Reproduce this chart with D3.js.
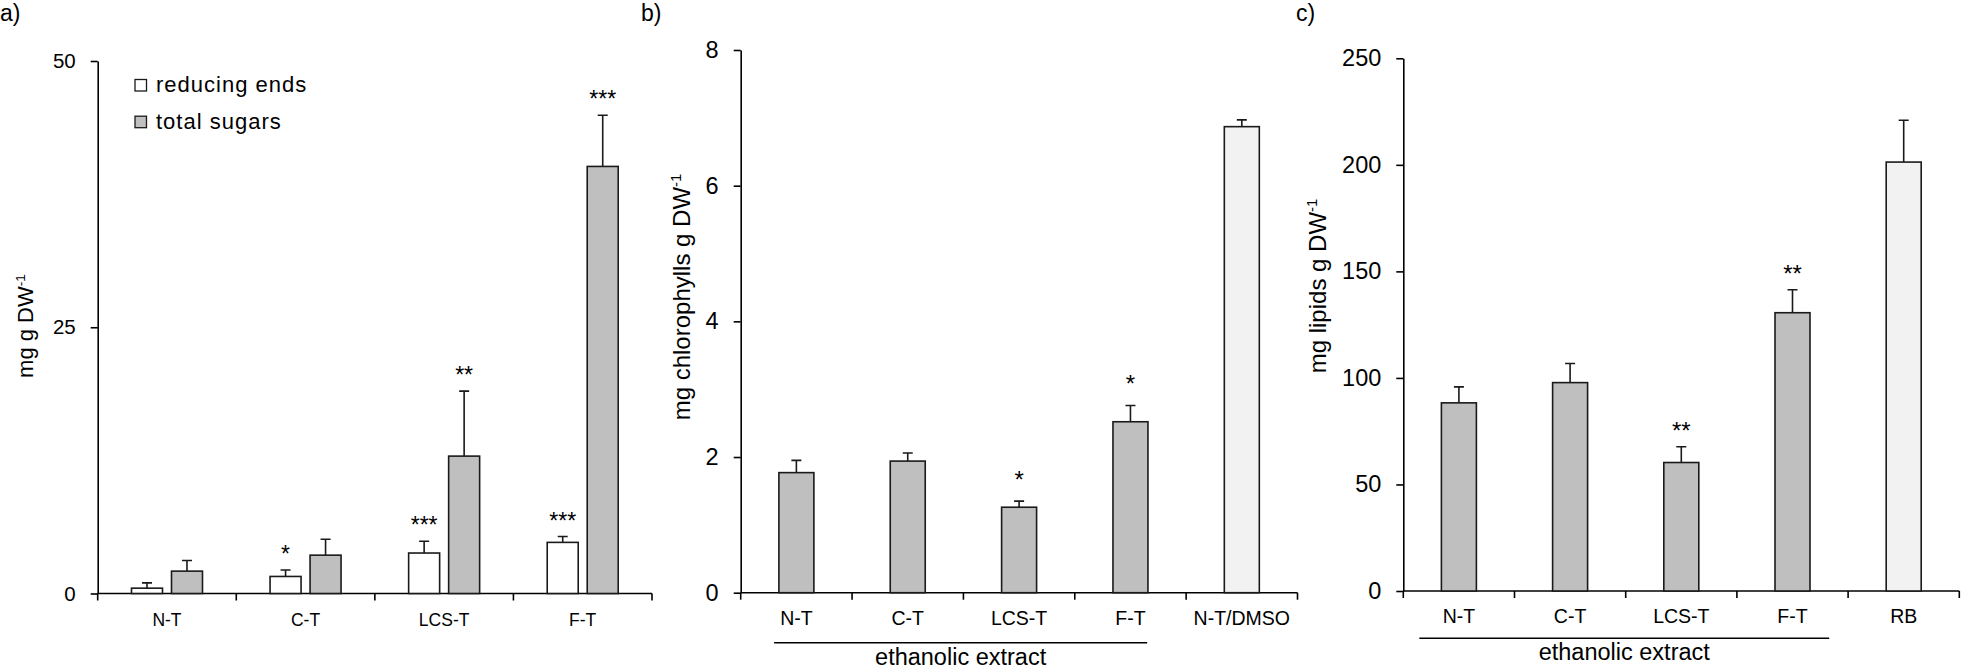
<!DOCTYPE html>
<html>
<head>
<meta charset="utf-8">
<script src="https://cdn.jsdelivr.net/npm/d3@7"></script>
<style>
  body { margin: 0; background: #fff; }
  svg text { font-family: "Liberation Sans", Arial, sans-serif; fill: #000; }
</style>
</head>
<body>
<div id="chart"></div>
<script>
// panel a: sugars
const catsA = ["N-T", "C-T", "LCS-T", "F-T"];
const seriesA = ["reducing ends", "total sugars"];
const reducingEnds = [0.5, 1.6, 3.8, 4.8];
const reducingEndsErr = [0.5, 0.6, 1.1, 0.55];
const reducingEndsSig = ["", "*", "***", "***"];
const totalSugars = [2.1, 3.6, 12.9, 40.1];
const totalSugarsErr = [1.0, 1.5, 6.1, 4.8];
const totalSugarsSig = ["", "", "**", "***"];
const ticksA = [0, 25, 50];

// panel b: chlorophylls
const catsB = ["N-T", "C-T", "LCS-T", "F-T", "N-T/DMSO"];
const chlorophylls = [1.77, 1.94, 1.26, 2.52, 6.87];
const chlorophyllsErr = [0.18, 0.12, 0.09, 0.24, 0.1];
const chlorophyllsSig = ["", "", "*", "*", ""];
const ticksB = [0, 2, 4, 6, 8];

// panel c: lipids
const catsC = ["N-T", "C-T", "LCS-T", "F-T", "RB"];
const lipids = [88.3, 97.8, 60.3, 130.6, 201.3];
const lipidsErr = [7.5, 9, 7.4, 10.8, 19.6];
const lipidsSig = ["", "", "**", "**", ""];
const ticksC = [0, 50, 100, 150, 200, 250];

// which categories belong to the ethanolic extract
const ethanolic = ["N-T", "C-T", "LCS-T", "F-T"];

const W = 1961, H = 670;
const svg = d3.select("#chart").append("svg")
    .attr("width", W)
    .attr("height", H);

const barStroke = "#1a1a1a";

// draws axes for one panel, returns scales
function axes(p) {
    let g = svg.append("g");
    let x = d3.scaleBand().domain(p.cats).range([p.left, p.right]).padding(0);
    let y = d3.scaleLinear().domain([0, p.ymax]).range([p.bottom, p.top]);

    // y axis
    let ya = g.append("g")
        .attr("transform", `translate(${p.left},0)`)
        .call(d3.axisLeft(y).tickValues(p.ticks).tickSize(7).tickPadding(15).tickSizeOuter(0));
    ya.selectAll("text").style("font-size", p.tickFont + "px");
    ya.selectAll("line, path").attr("stroke", "#000").attr("stroke-width", 1.6);

    // x axis line with ticks between categories
    g.append("line")
        .attr("x1", p.left).attr("x2", p.right)
        .attr("y1", p.bottom).attr("y2", p.bottom)
        .attr("stroke", "#000").attr("stroke-width", 1.6);
    let bounds = p.cats.map(c => x(c)).concat([p.right]);
    g.selectAll(".bt").data(bounds).enter().append("line")
        .attr("x1", d => d).attr("x2", d => d)
        .attr("y1", p.bottom).attr("y2", p.bottom + 7)
        .attr("stroke", "#000").attr("stroke-width", 1.6);
    g.selectAll(".cl").data(p.cats).enter().append("text")
        .attr("x", d => x(d) + x.bandwidth() / 2)
        .attr("y", p.bottom + 32)
        .style("text-anchor", "middle")
        .style("font-size", p.catFont + "px")
        .text(d => d);

    // y axis title with superscript
    let t = g.append("text")
        .attr("transform", `translate(${p.titleX}, ${p.titleY}) rotate(-90)`)
        .style("text-anchor", "middle")
        .style("font-size", p.titleFont + "px");
    t.append("tspan").text(p.title);
    t.append("tspan").attr("dy", -p.titleFont * 0.38)
        .style("font-size", (p.titleFont * 0.62) + "px").text("-1");

    // panel letter
    g.append("text")
        .attr("x", p.letterX).attr("y", 21)
        .style("font-size", "23px")
        .text(p.letter);

    return { g, x, y };
}

function errBars(g, data, cap) {
    g.selectAll(null).data(data).enter().append("path")
        .attr("d", d => `M${d.cx},${d.y0}V${d.y1}M${d.cx - cap / 2},${d.y1}H${d.cx + cap / 2}`)
        .attr("stroke", barStroke).attr("stroke-width", 1.6).attr("fill", "none");
}

function stars(g, data, off, size) {
    g.selectAll(null).data(data.filter(d => d.sig)).enter().append("text")
        .attr("x", d => d.cx)
        .attr("y", d => d.y1 + off)
        .style("text-anchor", "middle")
        .style("font-size", size + "px")
        .text(d => d.sig);
}

// ---------- panel a ----------
{
    let p = {
        cats: catsA, left: 97.7, right: 652, top: 61, bottom: 593.5, ymax: 50, ticks: ticksA,
        tickFont: 20.5, catFont: 17.5, title: "mg g DW", titleFont: 22, titleX: 33, titleY: 326,
        letter: "a)", letterX: 0
    };
    let { g, x, y } = axes(p);
    let x1 = d3.scaleBand().domain(seriesA).range([0, 71]).paddingInner(0.225);
    let fill = d3.scaleOrdinal().domain(seriesA).range(["#ffffff", "#bfbfbf"]);
    let vals = { "reducing ends": reducingEnds, "total sugars": totalSugars };
    let errs = { "reducing ends": reducingEndsErr, "total sugars": totalSugarsErr };
    let sigs = { "reducing ends": reducingEndsSig, "total sugars": totalSugarsSig };
    let data = [];
    catsA.forEach((c, i) => {
        seriesA.forEach(s => {
            let bx = x(c) + x.bandwidth() / 2 - 35.5 + x1(s);
            data.push({
                s, bx, w: x1.bandwidth(), cx: bx + x1.bandwidth() / 2,
                y0: y(vals[s][i]), y1: y(vals[s][i] + errs[s][i]), sig: sigs[s][i]
            });
        });
    });
    errBars(g, data, 10);
    g.selectAll(null).data(data).enter().append("rect")
        .attr("x", d => d.bx).attr("y", d => d.y0)
        .attr("width", d => d.w).attr("height", d => y(0) - d.y0)
        .attr("fill", d => fill(d.s))
        .attr("stroke", barStroke).attr("stroke-width", 1.6);
    stars(g, data, -8, 23);

    // legend
    let lg = g.selectAll(".lg").data(seriesA).enter().append("g")
        .attr("transform", (d, i) => `translate(135, ${79.5 + i * 36.7})`);
    lg.append("rect").attr("width", 11.5).attr("height", 11.5)
        .attr("fill", d => fill(d)).attr("stroke", barStroke).attr("stroke-width", 1.3);
    lg.append("text").attr("x", 21).attr("y", 12.5)
        .style("font-size", "22px").style("letter-spacing", "1px")
        .text(d => d);
}

// panels b and c share layout
function singlePanel(p, vals, errs, sigs) {
    let { g, x, y } = axes(p);
    let fill = c => ethanolic.includes(c) ? "#bfbfbf" : "#f2f2f2";
    let bw = 35;
    let data = p.cats.map((c, i) => ({
        c, bx: x(c) + x.bandwidth() / 2 - bw / 2, cx: x(c) + x.bandwidth() / 2,
        y0: y(vals[i]), y1: y(vals[i] + errs[i]), sig: sigs[i]
    }));
    errBars(g, data, 10);
    g.selectAll(null).data(data).enter().append("rect")
        .attr("x", d => d.bx).attr("y", d => d.y0)
        .attr("width", bw).attr("height", d => y(0) - d.y0)
        .attr("fill", d => fill(d.c))
        .attr("stroke", barStroke).attr("stroke-width", 1.6);
    stars(g, data, p.starOff, 24);

    // ethanolic extract bracket
    let x0 = x(ethanolic[0]) + x.bandwidth() * p.brFrom;
    let xe = x(ethanolic[ethanolic.length - 1]) + x.bandwidth() * p.brTo;
    g.append("line")
        .attr("x1", x0).attr("x2", xe)
        .attr("y1", p.brY).attr("y2", p.brY)
        .attr("stroke", "#000").attr("stroke-width", 1.6);
    g.append("text")
        .attr("x", (x0 + xe) / 2).attr("y", p.brY + 22)
        .style("text-anchor", "middle")
        .style("font-size", "23.5px")
        .text("ethanolic extract");
}

singlePanel({
    cats: catsB, left: 740.7, right: 1297.5, top: 50, bottom: 592.7, ymax: 8, ticks: ticksB,
    tickFont: 23.5, catFont: 19.5, title: "mg chlorophylls g DW", titleFont: 24, titleX: 690, titleY: 297,
    letter: "b)", letterX: 641, starOff: -13, brFrom: 0.3, brTo: 0.65, brY: 642.7
}, chlorophylls, chlorophyllsErr, chlorophyllsSig);

singlePanel({
    cats: catsC, left: 1403.3, right: 1959.3, top: 58.3, bottom: 591, ymax: 250, ticks: ticksC,
    tickFont: 23.5, catFont: 19.5, title: "mg lipids g DW", titleFont: 24, titleX: 1326, titleY: 286,
    letter: "c)", letterX: 1296, starOff: -8, brFrom: 0.144, brTo: 0.83, brY: 638.3
}, lipids, lipidsErr, lipidsSig);
</script>
</body>
</html>
